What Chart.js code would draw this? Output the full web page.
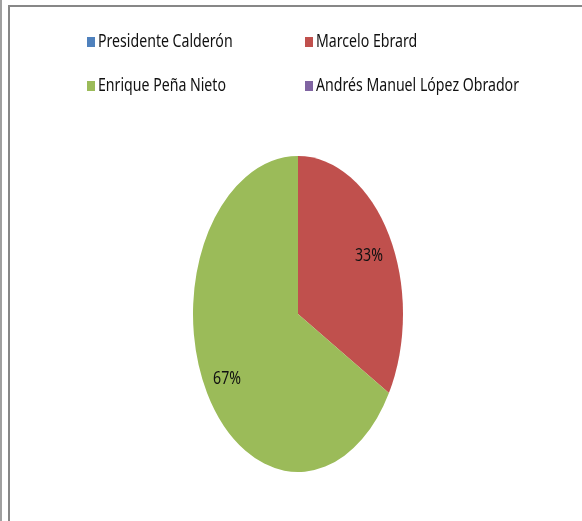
<!DOCTYPE html>
<html>
<head>
<meta charset="utf-8">
<script src="https://cdn.jsdelivr.net/npm/chart.js@4"></script>
<style>
  html, body { margin: 0; padding: 0; background: #fff; }
  #wrap { position: relative; width: 582px; height: 521px; overflow: hidden; }
  #frame { position: absolute; left: 8px; top: 5px; right: -10px; bottom: -10px;
           border-left: 2px solid #878787; border-top: 2px solid #878787; }
  #edge { position: absolute; left: 0; top: 0; width: 2px; height: 521px; background: #a0a0a0; }
  canvas { position: absolute; left: 0; top: 0; }
</style>
</head>
<body>
<div id="wrap">
  <div id="edge"></div>
  <div id="frame"></div>
  <canvas id="pieChart" width="582" height="521"></canvas>
</div>
<script>
const candidates = [
  "Presidente Calderón",
  "Marcelo Ebrard",
  "Enrique Peña Nieto",
  "Andrés Manuel López Obrador",
];
const votes = [0, 1, 2, 0];
const sliceColors = ["#4F81BD", "#C0504D", "#9BBB59", "#8064A2"];

const FONT = "'Noto Sans', sans-serif";
const NARROW = 0.785; // horizontal squeeze to imitate the condensed Calibri look
const STRETCH_Y = 158 / 105; // pie is drawn as a tall ellipse

// draw condensed text with its anchor at (x, y)
function narrowText(ctx, text, x, y) {
  ctx.save();
  ctx.translate(x, y);
  ctx.scale(NARROW, 1);
  ctx.fillText(text, 0, 0);
  ctx.restore();
}

// legend in two columns, like the Excel original
const legendGrid = {
  id: "legendGrid",
  afterDraw(chart) {
    const ctx = chart.ctx;
    const colX = [87, 305];
    const rowY = [42, 86];
    ctx.save();
    ctx.font = "18px " + FONT;
    ctx.textBaseline = "middle";
    ctx.textAlign = "left";
    candidates.forEach((name, i) => {
      const x = colX[i % 2];
      const y = rowY[Math.floor(i / 2)];
      ctx.fillStyle = sliceColors[i];
      ctx.fillRect(x, y - 5, 8, 10);
      ctx.fillStyle = "#111";
      narrowText(ctx, name, x + 11, y);
    });
    ctx.restore();
  },
};

const ellipse = {
  id: "ellipse",
  beforeDatasetsDraw(chart) {
    const arc = chart.getDatasetMeta(0).data[0];
    const ctx = chart.ctx;
    ctx.save();
    ctx.translate(arc.x, arc.y);
    ctx.scale(1, STRETCH_Y);
    ctx.translate(-arc.x, -arc.y);
  },
  afterDatasetsDraw(chart) {
    const ctx = chart.ctx;
    ctx.restore();

    // percentage labels
    const total = votes.reduce((a, b) => a + b, 0);
    ctx.save();
    ctx.font = "18px " + FONT;
    ctx.fillStyle = "#111";
    ctx.textAlign = "center";
    ctx.textBaseline = "middle";
    chart.getDatasetMeta(0).data.forEach((arc, i) => {
      if (!votes[i]) return;
      const mid = (arc.startAngle + arc.endAngle) / 2;
      const r = arc.outerRadius * 0.78;
      const x = arc.x + Math.cos(mid) * r;
      const y = arc.y + Math.sin(mid) * r * STRETCH_Y;
      narrowText(ctx, Math.round((votes[i] / total) * 100) + "%", x, y + 3);
    });
    ctx.restore();
  },
};

new Chart(document.getElementById("pieChart"), {
  type: "pie",
  data: {
    labels: candidates,
    datasets: [
      {
        data: votes,
        backgroundColor: sliceColors,
        borderWidth: 0,
        hoverOffset: 0,
      },
    ],
  },
  options: {
    responsive: false,
    animation: false,
    radius: 105,
    layout: { padding: { left: 100, right: 86, top: 120, bottom: 13 } },
    plugins: {
      legend: { display: false },
      tooltip: { enabled: false },
    },
  },
  plugins: [legendGrid, ellipse],
});
</script>
</body>
</html>
